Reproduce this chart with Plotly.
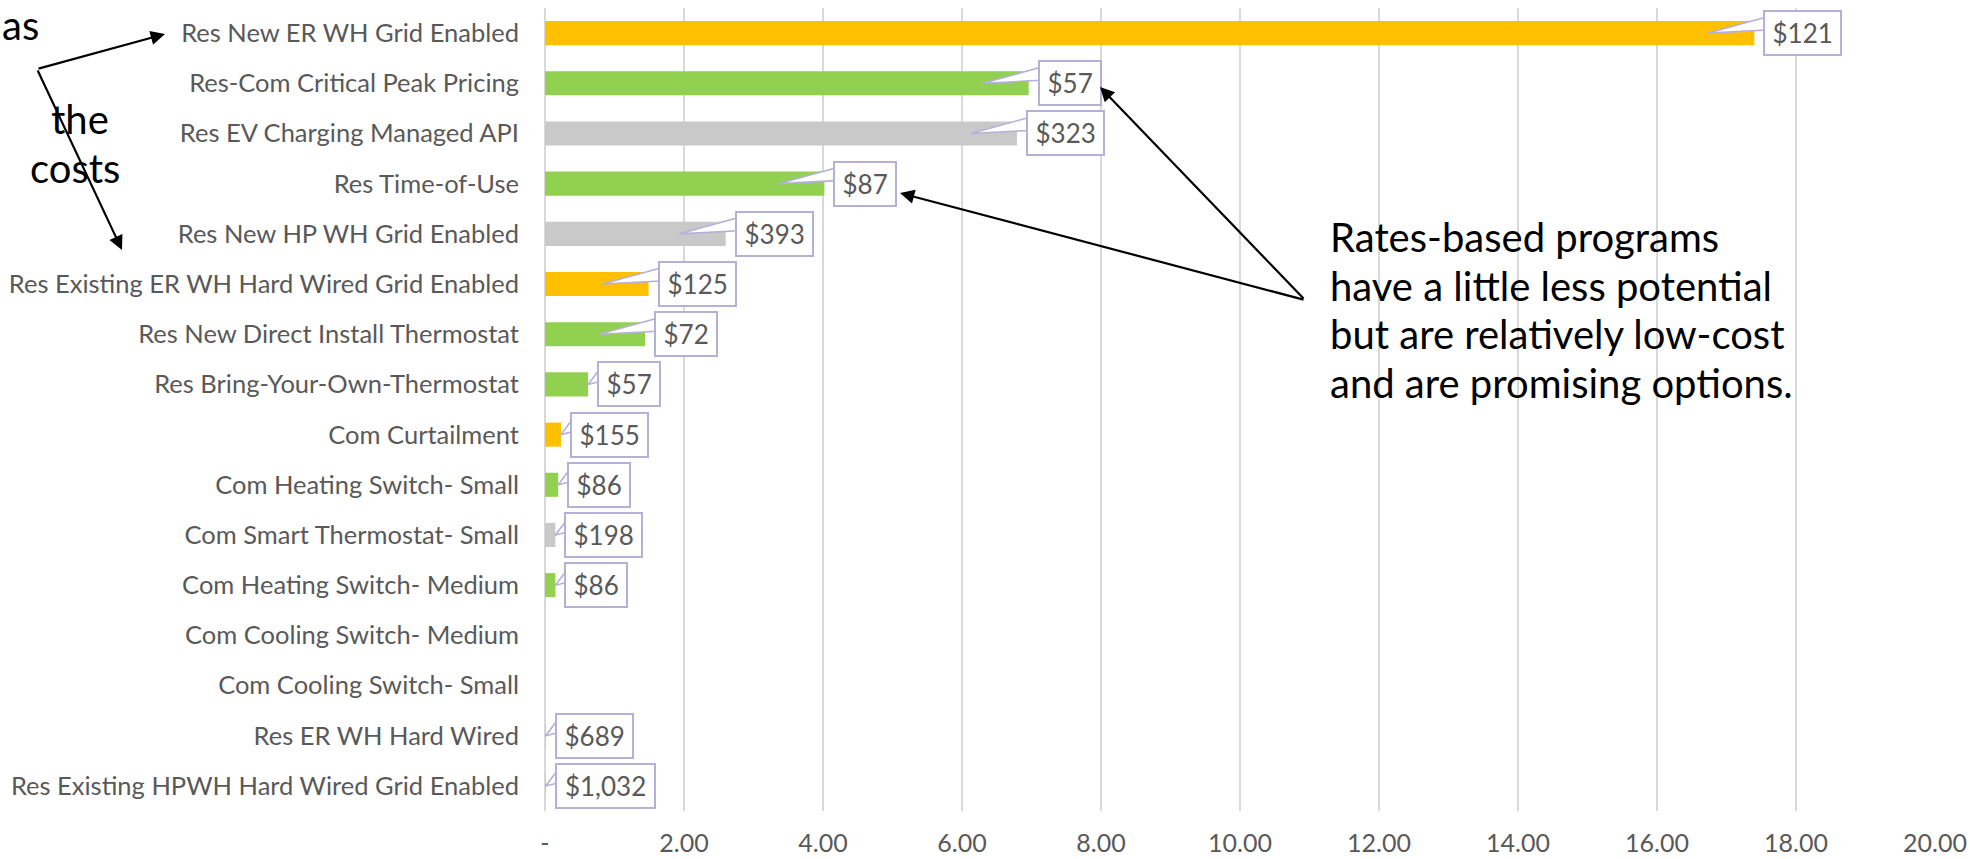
import plotly.graph_objects as go

# ---------------- data ----------------
categories = [
    "Res New ER WH Grid Enabled",
    "Res-Com Critical Peak Pricing",
    "Res EV Charging Managed API",
    "Res Time-of-Use",
    "Res New HP WH Grid Enabled",
    "Res Existing ER WH Hard Wired Grid Enabled",
    "Res New Direct Install Thermostat",
    "Res Bring-Your-Own-Thermostat",
    "Com Curtailment",
    "Com Heating Switch- Small",
    "Com Smart Thermostat- Small",
    "Com Heating Switch- Medium",
    "Com Cooling Switch- Medium",
    "Com Cooling Switch- Small",
    "Res ER WH Hard Wired",
    "Res Existing HPWH Hard Wired Grid Enabled",
]
values = [17.4, 6.96, 6.79, 4.02, 2.60, 1.49, 1.44, 0.62, 0.23, 0.19, 0.15, 0.15, 0.0, 0.0, 0.01, 0.01]
cost_labels = ["$121", "$57", "$323", "$87", "$393", "$125", "$72", "$57", "$155", "$86",
               "$198", "$86", "", "", "$689", "$1,032"]
groups = ["water", "rate", "other", "rate", "other", "water", "rate", "rate", "water", "rate",
          "other", "rate", "other", "other", "other", "other"]
x_tickvals = [0, 2, 4, 6, 8, 10, 12, 14, 16, 18, 20]
x_ticktext = ["-", "2.00", "4.00", "6.00", "8.00", "10.00", "12.00", "14.00", "16.00", "18.00", "20.00"]

# ---------------- styling ----------------
group_colors = {"water": "#FFC000", "rate": "#92D050", "other": "#C9C9C9"}
W, H = 1970, 859
ML, MR, MT, MB = 545, 35, 8, 48
PW, PH = W - ML - MR, H - MT - MB
XMAX = 20
px_per_unit = PW / XMAX
px_per_cat = PH / len(categories)
FONT = "Lato"
GRAY_TXT = "#595959"
CALLOUT = "#B4B0D8"
LBL_SIZE = 26

fig = go.Figure()
fig.add_trace(go.Bar(
    y=categories, x=values, orientation="h",
    marker=dict(color=[group_colors[g] for g in groups], line=dict(width=0)),
    hoverinfo="skip", showlegend=False,
))


def label_width(s):
    w = 0.0
    for ch in s:
        w += 0.26 if ch in ",." else 0.58
    return w * LBL_SIZE + 5


annotations = []
shapes = []
# data callouts (box + wedge pointing back into the bar)
gap_units = 9 / px_per_unit
wedge_units = 46 / px_per_unit
for i, (cat, v, lab) in enumerate(zip(categories, values, cost_labels)):
    if not lab:
        continue
    tip = v - wedge_units if v > 1.0 else v
    base_x = v + gap_units
    y_top = i - 16 / px_per_cat
    y_bot = i - 3 / px_per_cat
    shapes.append(dict(
        type="path", xref="x", yref="y", layer="above",
        path=f"M {base_x + 3 / px_per_unit} {y_top} L {tip} {i} L {base_x + 3 / px_per_unit} {y_bot} Z",
        fillcolor="white", line=dict(color=CALLOUT, width=1.6),
    ))
    annotations.append(dict(
        x=base_x, y=cat, xref="x", yref="y", showarrow=False,
        text=lab, xanchor="left", yanchor="middle", width=label_width(lab), align="center",
        bgcolor="white", bordercolor=CALLOUT, borderwidth=2, borderpad=5,
        font=dict(family=FONT, size=LBL_SIZE, color=GRAY_TXT),
    ))


def px2paper(px, py):
    return (px - ML) / PW, (H - MB - py) / PH


def arrow(tx, ty, hx, hy):
    x, y = px2paper(hx, hy)
    return dict(x=x, y=y, xref="paper", yref="paper", ax=tx - hx, ay=ty - hy,
                axref="pixel", ayref="pixel", text="", showarrow=True,
                arrowhead=2, arrowsize=1.3, arrowwidth=2.2, arrowcolor="black",
                standoff=0, startstandoff=0)


annotations += [
    arrow(37, 69, 165, 34),
    arrow(37, 69, 122, 250),
    arrow(1305, 300, 1100, 87),
    arrow(1305, 300, 900, 193),
]

# cut-off note on the left
for txt, rx, cy in [("as", 41, 25), ("the", 111, 119), ("costs", 122, 168)]:
    x, y = px2paper(rx, cy)
    annotations.append(dict(x=x, y=y, xref="paper", yref="paper", text=txt, showarrow=False,
                            xanchor="right", yanchor="middle",
                            font=dict(family=FONT, size=40, color="black")))

# right note
note_lines = ["Rates-based programs", "have a little less potential",
              "but are relatively low-cost", "and are promising options."]
for i, line in enumerate(note_lines):
    x, y = px2paper(1328, 237 + i * 48.5)
    annotations.append(dict(x=x, y=y, xref="paper", yref="paper", text=line, showarrow=False,
                            xanchor="left", yanchor="middle",
                            font=dict(family=FONT, size=40, color="black")))

fig.update_layout(
    width=W, height=H,
    margin=dict(l=ML, r=MR, t=MT, b=MB, pad=0, autoexpand=False),
    paper_bgcolor="white", plot_bgcolor="white",
    bargap=0.52,
    annotations=annotations,
    shapes=shapes,
    font=dict(family=FONT, color=GRAY_TXT),
)
fig.update_xaxes(
    range=[0, XMAX], tickvals=x_tickvals, ticktext=x_ticktext,
    showgrid=True, gridcolor="#D9D9D9", gridwidth=2,
    zeroline=True, zerolinecolor="#D9D9D9", zerolinewidth=2,
    showline=False, ticks="", ticklabelstandoff=15, automargin=False,
    tickfont=dict(family=FONT, size=25, color=GRAY_TXT),
)
fig.update_yaxes(
    categoryorder="array", categoryarray=categories,
    range=[len(categories) - 0.5, -0.5],
    showgrid=False, zeroline=False, showline=False, ticks="", ticklabelstandoff=25,
    automargin=False,
    tickfont=dict(family=FONT, size=25.5, color=GRAY_TXT),
)

fig.write_html("out.html", config={"displayModeBar": False},
               post_script="document.body.style.margin='0';")
